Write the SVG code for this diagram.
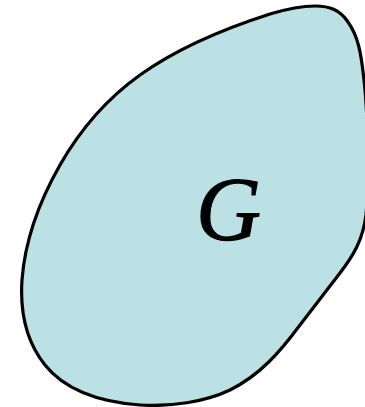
<svg xmlns="http://www.w3.org/2000/svg" width="365" height="407" viewBox="0 0 365 407">
<style>
.blob{fill:#bce1e4;stroke:#000;stroke-width:3.2;stroke-linejoin:round}
.lbl{font-family:"Liberation Serif",serif;font-style:italic;font-size:90px;fill:#000;stroke:#000;stroke-width:1.2}
</style>
<rect width="365" height="407" fill="#fff"/>
<g id="G">
<path class="blob" d="M315,6 C330,6 340,10 348,22 C358,36 361,52 364,80 C368,115 369,180 366,215 C363,240 353,256 340,273 L300,325 C280,352 260,375 230,390 C205,402 170,407 140,405 C100,402 65,390 45,365 C25,340 20,310 22,280 C25,240 40,200 60,165 C80,130 105,100 140,75 C175,50 220,30 270,14 C290,8 305,6 315,6 Z"/>
<text class="lbl" x="196" y="240">G</text>
</g>
</svg>
